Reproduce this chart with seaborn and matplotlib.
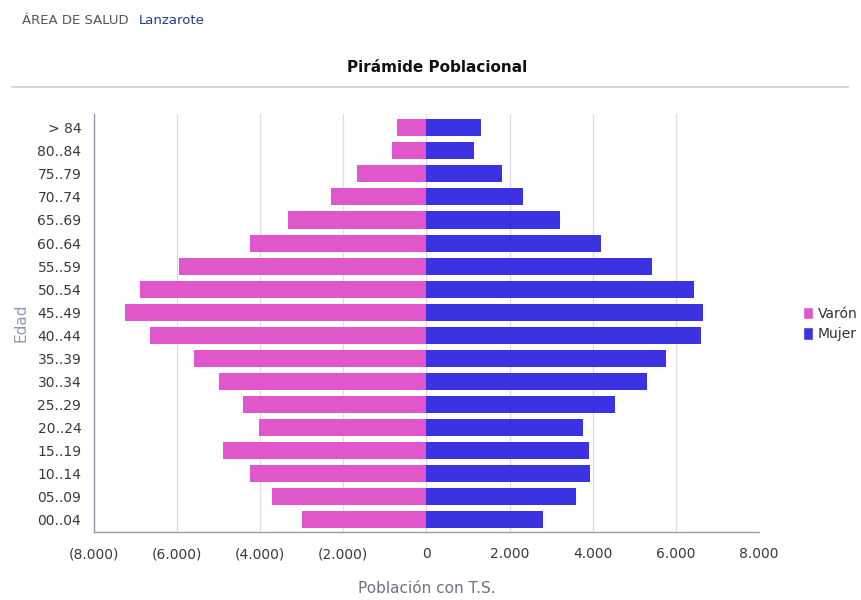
import pandas as pd
import numpy as np
import matplotlib
matplotlib.use('Agg')
import matplotlib.pyplot as plt
import seaborn as sns
from matplotlib.ticker import FuncFormatter
from matplotlib.patches import Patch

# Age groups, top to bottom
edades = ['> 84', '80..84', '75..79', '70..74', '65..69', '60..64', '55..59',
          '50..54', '45..49', '40..44', '35..39', '30..34', '25..29', '20..24',
          '15..19', '10..14', '05..09', '00..04']
varon = [700, 826, 1663, 2296, 3325, 4255, 5952, 6882, 7253, 6651, 5581,
         4988, 4424, 4024, 4882, 4255, 3725, 2995]
mujer = [1315, 1155, 1820, 2318, 3214, 4207, 5433, 6428, 6659, 6596, 5762,
         5298, 4536, 3774, 3911, 3942, 3606, 2813]
x_ticks = [-8000, -6000, -4000, -2000, 0, 2000, 4000, 6000, 8000]

col_varon = '#e056cb'
col_mujer = '#3b32e2'

df = pd.concat([
    pd.DataFrame({'Edad': edades, 'Poblacion': [-v for v in varon], 'Sexo': 'Varón'}),
    pd.DataFrame({'Edad': edades, 'Poblacion': mujer, 'Sexo': 'Mujer'}),
])

sns.set_style('white')
plt.rcParams['font.family'] = ['DejaVu Sans']

fig = plt.figure(figsize=(8.61, 6.0), dpi=100)
ax = fig.add_axes([0.109, 0.113, 0.7725, 0.697])

sns.barplot(data=df, x='Poblacion', y='Edad', hue='Sexo', order=edades,
            hue_order=['Varón', 'Mujer'], palette=[col_varon, col_mujer],
            dodge=False, width=0.74, orient='h', ax=ax, legend=False,
            saturation=1, edgecolor='none', zorder=3)

ax.set_xlim(-8000, 8000)
ax.set_ylim(len(edades) - 0.45, -0.6)
ax.set_xticks(x_ticks)


def fmt(v, pos):
    s = f'{abs(int(v)):,}'.replace(',', '.')
    return f'({s})' if v < 0 else s


ax.xaxis.set_major_formatter(FuncFormatter(fmt))
ax.grid(axis='x', color='#dcdce4', linewidth=0.9, zorder=0)
ax.grid(axis='y', visible=False)
for side in ['top', 'right']:
    ax.spines[side].set_visible(False)
for side in ['left', 'bottom']:
    ax.spines[side].set_color('#9a9aae')
    ax.spines[side].set_linewidth(1.0)
ax.tick_params(axis='both', length=0, labelsize=10, labelcolor='#3a3a3a')
ax.tick_params(axis='x', pad=11)
ax.tick_params(axis='y', pad=9)

ax.set_xlabel('Población con T.S.', fontsize=11, color='#6b7380', labelpad=14)
ax.set_ylabel('Edad', fontsize=11, color='#8a9ab8', labelpad=6)

# header and title
fig.text(22 / 861, 1 - 20 / 600, 'ÁREA DE SALUD', fontsize=9.5, color='#555555',
         va='center', ha='left')
fig.text(139 / 861, 1 - 20 / 600, 'Lanzarote', fontsize=9.5, color='#1f3f8a',
         va='center', ha='left')
fig.text(437 / 861, 1 - 68 / 600, 'Pirámide Poblacional', fontsize=11,
         fontweight='bold', color='#111111', ha='center', va='center')
fig.add_artist(plt.Line2D([12 / 861, 848 / 861], [1 - 87 / 600, 1 - 87 / 600],
                          color='#d0d4e0', linewidth=1.5))

handles = [Patch(facecolor=col_varon, label='Varón'),
           Patch(facecolor=col_mujer, label='Mujer')]
fig.legend(handles=handles, loc='center left', bbox_to_anchor=(790 / 861, 1 - 324 / 600),
           frameon=False, fontsize=10, handlelength=0.75, handleheight=1.0,
           handletextpad=0.35, labelspacing=0.45, labelcolor='#333333')

fig.savefig('out.png', dpi=100, facecolor='white')
